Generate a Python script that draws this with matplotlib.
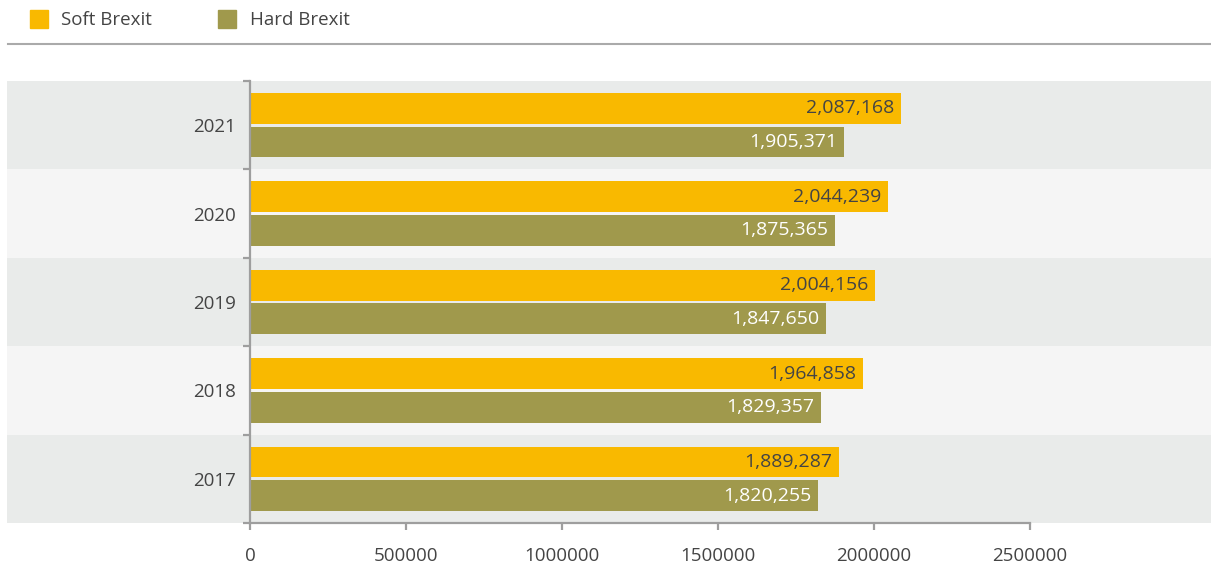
import matplotlib.pyplot as plt
from matplotlib.patches import Rectangle
import numpy as np

years = ["2017", "2018", "2019", "2020", "2021"]
soft = [1889287, 1964858, 2004156, 2044239, 2087168]
hard = [1820255, 1829357, 1847650, 1875365, 1905371]
xticks = [0, 500000, 1000000, 1500000, 2000000, 2500000]

soft_color = "#F9B900"
hard_color = "#A0994C"
text_color = "#444444"
axis_color = "#9E9E9E"

plt.rcParams["font.family"] = ["Open Sans", "DejaVu Sans"]

W, H = 1211, 584
fig = plt.figure(figsize=(W / 100, H / 100), dpi=100)

# axes spans pixel x 250..1030, y 81..523
ax = fig.add_axes([250 / W, (H - 523) / H, 780 / W, 442 / H])
ax.set_xlim(0, 2500000)
ax.set_ylim(-0.5, len(years) - 0.5)
ax.patch.set_alpha(0)

# alternating background bands across the full width
x0 = (7 - 250) / 780
x1 = (W - 250) / 780
for i in range(len(years)):
    c = "#E9EBEA" if (len(years) - 1 - i) % 2 == 0 else "#F5F5F5"
    ax.axhspan(i - 0.5, i + 0.5, xmin=x0, xmax=x1, color=c, lw=0, clip_on=False, zorder=0)

y = np.arange(len(years))
off = 0.19
h = 0.35
ax.barh(y + off, soft, height=h, color=soft_color, zorder=2)
ax.barh(y - off, hard, height=h, color=hard_color, zorder=2)

for yi, v in zip(y, soft):
    ax.annotate(f"{v:,}", (v, yi + off), xytext=(-5, 0), textcoords="offset points",
                ha="right", va="center", fontsize=14, color=text_color, zorder=3)
for yi, v in zip(y, hard):
    ax.annotate(f"{v:,}", (v, yi - off), xytext=(-5, 0), textcoords="offset points",
                ha="right", va="center", fontsize=14, color="white", zorder=3)

for s in ["top", "right"]:
    ax.spines[s].set_visible(False)
for s in ["left", "bottom"]:
    ax.spines[s].set_color(axis_color)
    ax.spines[s].set_linewidth(1.6)
    ax.spines[s].set_zorder(4)

ax.set_xticks(xticks)
ax.set_xticklabels([str(t) for t in xticks])
ax.tick_params(axis="x", length=5, width=1.6, color=axis_color, labelsize=13.5,
               labelcolor=text_color, pad=12)
ax.set_yticks(y)
ax.set_yticklabels(years)
ax.tick_params(axis="y", which="major", length=0, labelsize=13.5,
               labelcolor=text_color, pad=10)
ax.set_yticks(np.arange(-0.5, len(years)), minor=True)
ax.tick_params(axis="y", which="minor", length=5, width=1.6, color=axis_color)

# legend
fig.patches.append(Rectangle((30 / W, 1 - 28 / H), 18 / W, 18 / H, transform=fig.transFigure,
                             color=soft_color))
fig.text(61 / W, 1 - 20 / H, "Soft Brexit", fontsize=13.5, color=text_color, va="center")
fig.patches.append(Rectangle((218 / W, 1 - 28 / H), 18 / W, 18 / H, transform=fig.transFigure,
                             color=hard_color))
fig.text(250 / W, 1 - 20 / H, "Hard Brexit", fontsize=13.5, color=text_color, va="center")
fig.add_artist(plt.Line2D([8 / W, 1], [1 - 44 / H, 1 - 44 / H], transform=fig.transFigure,
                          color="#AAAAAA", lw=1.5))

fig.savefig("out.png", dpi=100)
